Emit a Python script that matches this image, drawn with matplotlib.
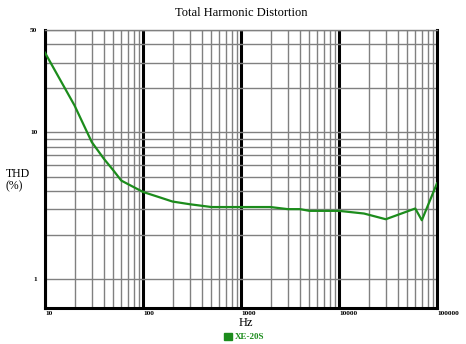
import matplotlib
matplotlib.use("Agg")
import matplotlib.pyplot as plt
from matplotlib.ticker import FixedLocator, NullFormatter
from matplotlib.patches import Patch

# Data
freq_hz = [10, 20, 30, 40, 50, 60, 70, 100, 150, 200, 300, 500, 1000, 2000,
           3000, 4000, 5000, 10000, 18000, 30000, 60000, 70000, 100000]
thd_pct = [35.0, 15.3, 8.6, 6.6, 5.5, 4.7, 4.45, 3.93, 3.6, 3.38, 3.24, 3.1, 3.1, 3.1,
           3.0, 3.0, 2.92, 2.92, 2.8, 2.56, 3.03, 2.52, 4.5]
series_name = "XE-20S"

x_major = [10, 100, 1000, 10000, 100000]
x_major_labels = ["10", "100", "1000", "10000", "100000"]
x_minor = [m * d for d in [10, 100, 1000, 10000] for m in range(2, 10)]
y_major = [1, 10, 50]
y_major_labels = ["1", "10", "50"]
y_minor = [2, 3, 4, 5, 6, 7, 8, 9, 20, 30, 40]

green = "#1c8c1c"
W, H = 466, 344
fig = plt.figure(figsize=(W / 100, H / 100), dpi=100)
ax = fig.add_axes([45 / W, 1 - 307.7 / H, (437 - 45) / W, (307.7 - 30) / H])
ax.set_xscale("log")
ax.set_yscale("log")
ax.set_xlim(10, 100000)
ax.set_ylim(0.638, 50)

ax.xaxis.set_major_locator(FixedLocator(x_major))
ax.xaxis.set_minor_locator(FixedLocator(x_minor))
ax.yaxis.set_major_locator(FixedLocator(y_major))
ax.yaxis.set_minor_locator(FixedLocator(y_minor))
ax.xaxis.set_minor_formatter(NullFormatter())
ax.yaxis.set_minor_formatter(NullFormatter())
ax.set_xticklabels(x_major_labels)
ax.set_yticklabels(y_major_labels)

ax.grid(True, which="major", axis="x", color="black", lw=2.2, zorder=1)
ax.grid(True, which="minor", axis="x", color="#808080", lw=1.0, zorder=1)
ax.grid(True, which="both", axis="y", color="#808080", lw=1.0, zorder=1)
ax.set_axisbelow(True)

tick_font = ["Liberation Serif", "DejaVu Serif"]
ax.tick_params(which="both", length=0)
ax.tick_params(axis="x", pad=2.3)
ax.tick_params(axis="y", pad=5.5)
for lab in ax.get_xticklabels():
    lab.set_horizontalalignment("left")
    lab.set_fontsize(5.3)
    lab.set_family(tick_font)
    lab.set_fontweight("bold")
for lab in ax.get_yticklabels():
    lab.set_fontsize(5.3)
    lab.set_family(tick_font)
    lab.set_fontweight("bold")

for s in ["left", "bottom", "right"]:
    ax.spines[s].set_color("black")
    ax.spines[s].set_linewidth(2.2)
ax.spines["top"].set_color("#808080")
ax.spines["top"].set_linewidth(1.0)

ax.plot(freq_hz, thd_pct, color=green, lw=1.6, zorder=3, label=series_name)

serif = ["Liberation Serif", "DejaVu Serif"]
fig.text(241 / W, 1 - 13 / H, "Total Harmonic Distortion", ha="center", va="center",
         family=serif, fontsize=9)
fig.text(246 / W, 1 - 323.5 / H, "Hz", ha="center", va="center", family=serif, fontsize=9)
fig.text(6 / W, 1 - 180 / H, "THD\n(%)", ha="left", va="center", family=serif,
         fontsize=8.5, linespacing=1.0, multialignment="left")

leg = fig.legend(handles=[Patch(facecolor=green, edgecolor=green, label=series_name)],
                 loc="center", bbox_to_anchor=(244 / W, 1 - 337 / H), frameon=False,
                 handlelength=0.9, handleheight=0.9, handletextpad=0.3,
                 prop={"family": serif, "size": 6.5, "weight": "bold"}, borderpad=0)
for t in leg.get_texts():
    t.set_color(green)

fig.savefig("out.png", dpi=100)
